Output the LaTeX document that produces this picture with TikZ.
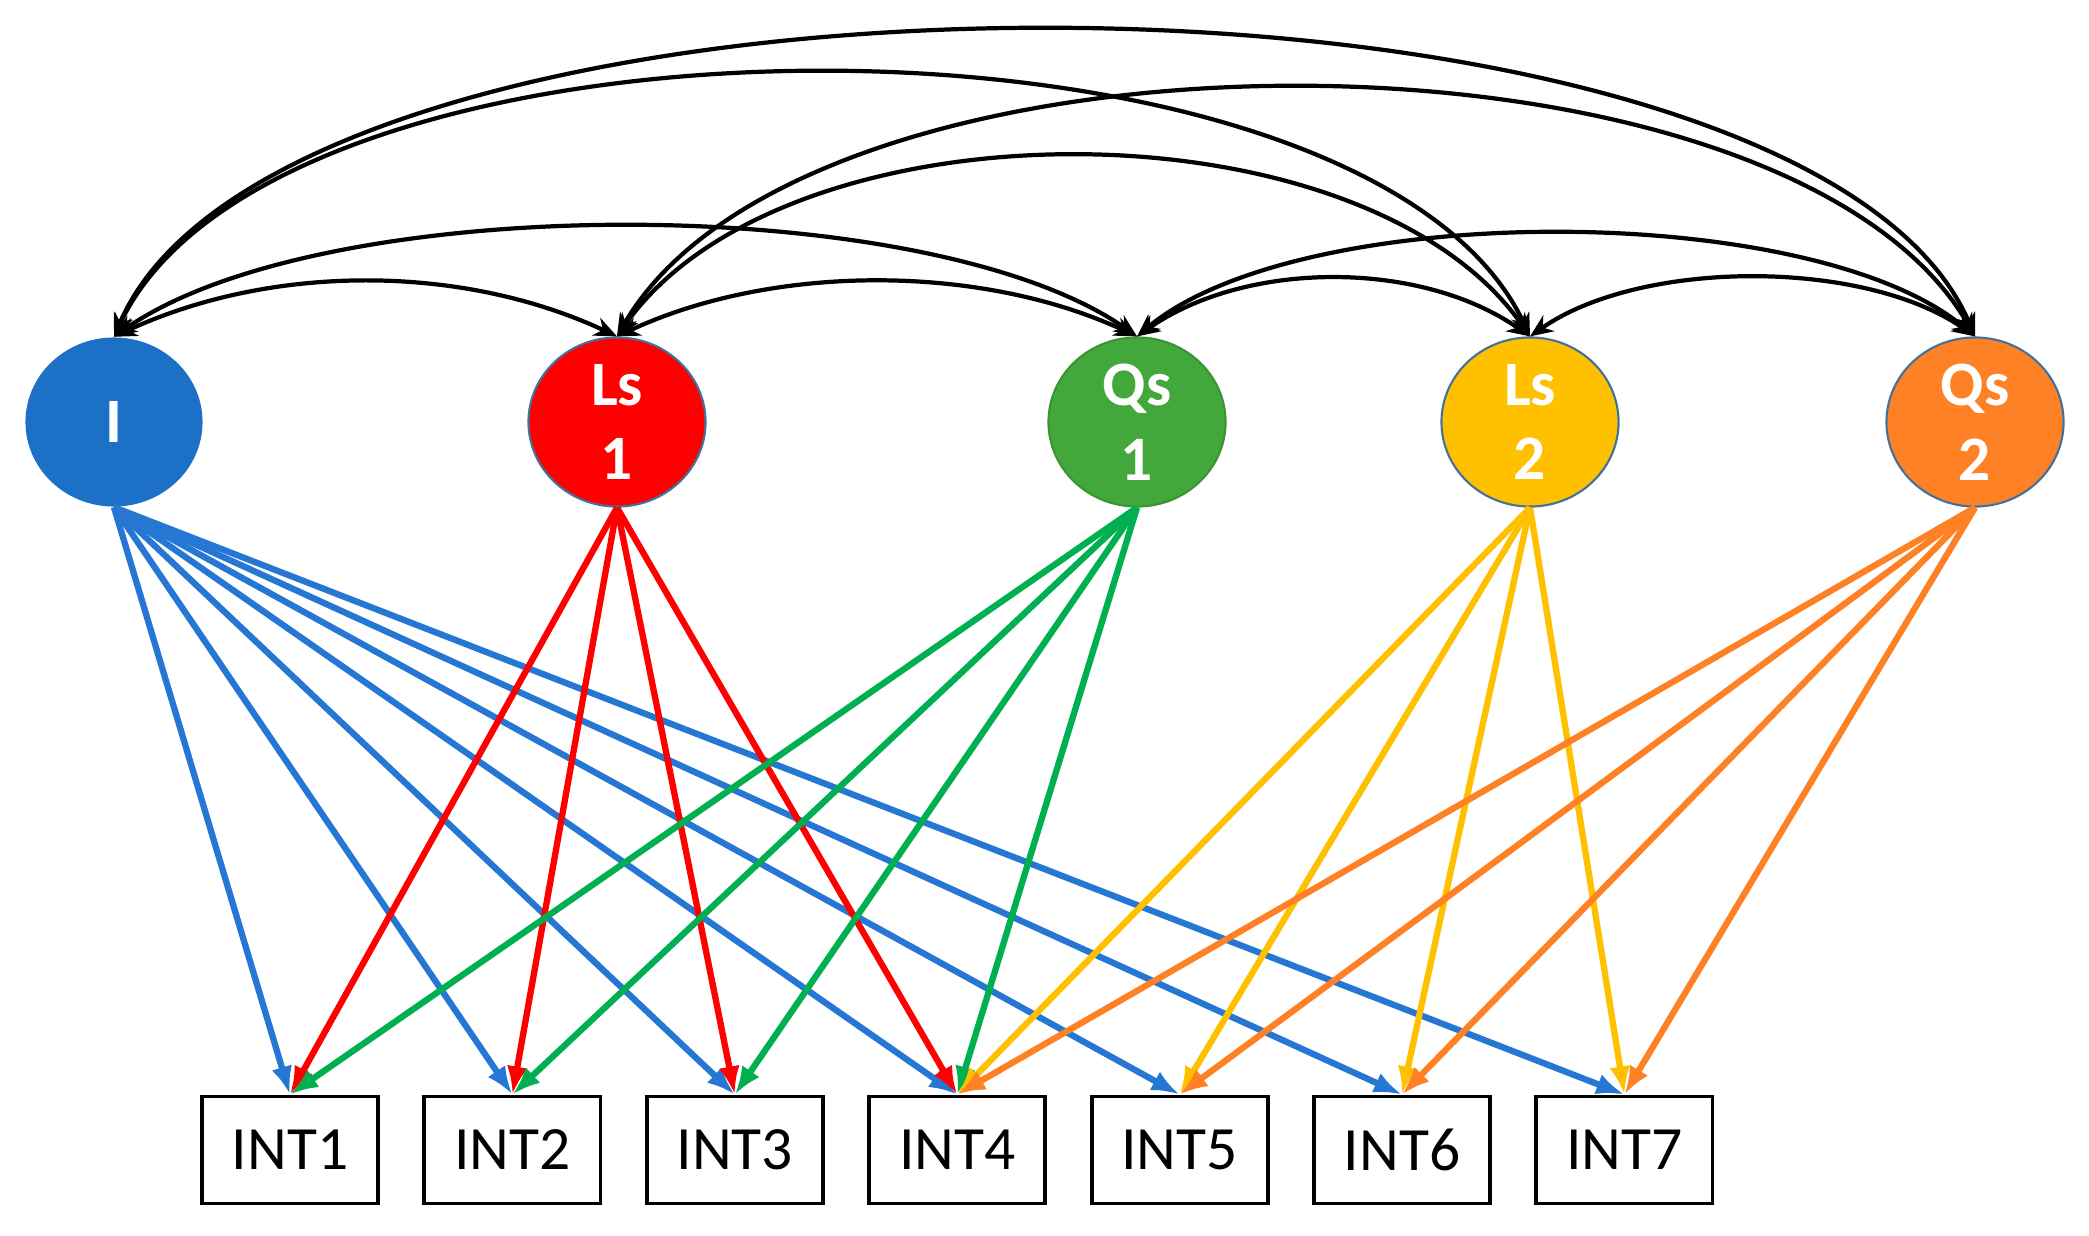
\documentclass[tikz,border=0pt]{standalone}
\usepackage{fontspec}
\setmainfont{Carlito}
\usepackage{tikz}
\usetikzlibrary{shapes}
\usetikzlibrary{arrows.meta}
\definecolor{Factor Blue}{HTML}{1C70C6}
\definecolor{Factor Red}{HTML}{FF0000}
\definecolor{Factor Green}{HTML}{43A83B}
\definecolor{Factor Gold}{HTML}{FFC000}
\definecolor{Factor Orange}{HTML}{FF8126}
\definecolor{Edge Blue}{HTML}{41719C}
\definecolor{Edge Green}{HTML}{3A9433}
\definecolor{Load Blue}{HTML}{2677D3}
\definecolor{Load Green}{HTML}{00B050}

\begin{document}
\begin{tikzpicture}[x=0.01cm, y=0.01cm,
    latent/.style={ellipse, minimum width=1.77cm, minimum height=1.69cm, inner sep=0pt,
        text=white, align=center, font=\fontsize{18}{21.3}\selectfont\bfseries},
    indicator/.style={draw, line width=1.1pt, minimum width=1.76cm, minimum height=1.07cm,
        inner sep=0pt, font=\fontsize{17.5}{20}\selectfont},
    load/.style={line width=1.8pt, -{Latex[length=8pt,width=6pt]}},
    cov/.style={line width=1.2pt, {Stealth[length=6.5pt,width=5.5pt]}-{Stealth[length=6.5pt,width=5.5pt]}}]

    \useasboundingbox (0,0) rectangle (2089,1235);

    % Latent growth factors
    \node[latent, fill=Factor Blue] (I) at (114,813) {I};
    \node[latent, fill=Factor Red, draw=Edge Blue, line width=0.6pt] (Ls1) at (617,813) {Ls\\1};
    \node[latent, fill=Factor Green, draw=Edge Green, line width=0.6pt] (Qs1) at (1137,813) {Qs\\1};
    \node[latent, fill=Factor Gold, draw=Edge Blue, line width=0.6pt] (Ls2) at (1530,813) {Ls\\2};
    \node[latent, fill=Factor Orange, draw=Edge Blue, line width=0.6pt] (Qs2) at (1975,813) {Qs\\2};

    % Observed indicators
    \foreach \i in {1,...,7} {
        \node[indicator] (int\i) at ({290+222.4*(\i-1)},85) {INT\i};
    }

    % Factor loadings
    \foreach \k in {1,...,7} \draw[load, Load Blue] (I.south) -- (int\k.north);
    \foreach \k in {1,...,4} \draw[load, Factor Red] (Ls1.south) -- (int\k.north);
    \foreach \k in {1,...,4} \draw[load, Load Green] (Qs1.south) -- (int\k.north);
    \foreach \k in {4,...,7} \draw[load, Factor Gold] (Ls2.south) -- (int\k.north);
    \foreach \k in {4,...,7} \draw[load, Factor Orange] (Qs2.south) -- (int\k.north);

    % Covariances between the factors
    \foreach \a/\b/\o/\n/\l in {
        I/Ls1/25/155/0.88,
        Ls1/Qs1/25/155/0.85,
        Qs1/Ls2/35/145/0.87,
        Ls2/Qs2/35/145/0.78,
        I/Qs1/35/145/0.64,
        Qs1/Qs2/40/140/0.65,
        Ls1/Ls2/55/125/0.82,
        Ls1/Qs2/60/120/0.72,
        I/Ls2/65/115/0.70,
        I/Qs2/67/113/0.61
    } {
        \draw[cov] (\a.north) to[out=\o, in=\n, looseness=\l] (\b.north);
    }
\end{tikzpicture}
\end{document}
